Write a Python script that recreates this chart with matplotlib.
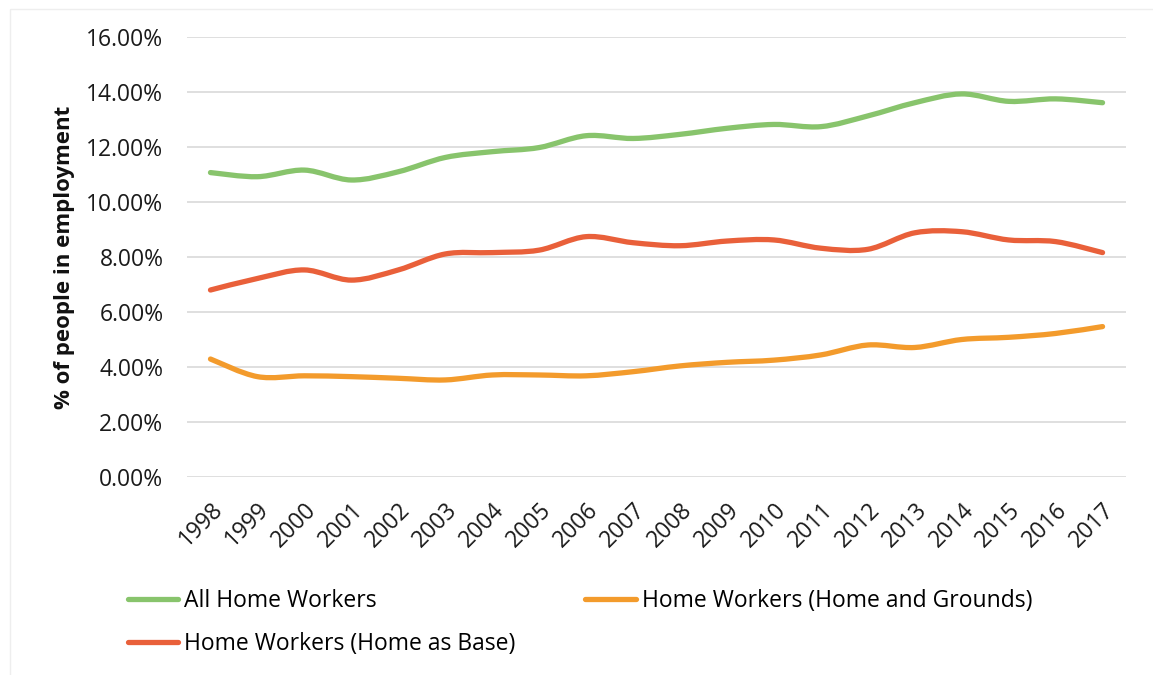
import matplotlib
matplotlib.use("Agg")
import matplotlib.pyplot as plt
import numpy as np
from matplotlib.path import Path
from matplotlib.patches import PathPatch, Rectangle
from matplotlib.lines import Line2D
from matplotlib.ticker import FuncFormatter, MultipleLocator

years = [str(y) for y in range(1998, 2018)]

all_home_workers = [11.07, 10.92, 11.16, 10.80, 11.10, 11.62, 11.83, 11.98, 12.41, 12.31,
                    12.46, 12.68, 12.82, 12.74, 13.13, 13.61, 13.93, 13.66, 13.75, 13.61]
home_as_base = [6.80, 7.22, 7.53, 7.16, 7.53, 8.11, 8.16, 8.25, 8.74, 8.52,
                8.41, 8.58, 8.62, 8.32, 8.28, 8.88, 8.92, 8.62, 8.56, 8.16]
home_and_grounds = [4.29, 3.65, 3.68, 3.65, 3.59, 3.53, 3.71, 3.71, 3.68, 3.83,
                    4.04, 4.17, 4.25, 4.44, 4.80, 4.71, 5.00, 5.08, 5.22, 5.47]

series_names = ["All Home Workers", "Home Workers (Home as Base)",
                "Home Workers (Home and Grounds)"]
series_values = [all_home_workers, home_as_base, home_and_grounds]
series_colors = ["#88c46c", "#e9603a", "#f39b2c"]

plt.rcParams["font.family"] = ["Open Sans", "DejaVu Sans"]

fig = plt.figure(figsize=(11.53, 6.75), dpi=100)
ax = fig.add_axes([0.1622, 0.2933, 0.8144, 0.6519])

# faint chart-area border
fig.add_artist(Rectangle((0.009, -0.05), 1.2, 1.037, transform=fig.transFigure,
                         fill=False, edgecolor="#eeeeee", linewidth=1.0))


def smooth_path(xs, ys):
    # Bezier smoothing with 1/6 tension (spreadsheet-style smoothed line)
    pts = np.column_stack([xs, ys]).astype(float)
    n = len(pts)
    verts = [pts[0]]
    codes = [Path.MOVETO]
    for i in range(n - 1):
        p0 = pts[i - 1] if i > 0 else pts[i]
        p1 = pts[i]
        p2 = pts[i + 1]
        p3 = pts[i + 2] if i + 2 < n else pts[i + 1]
        c1 = p1 + (p2 - p0) / 6.0
        c2 = p2 - (p3 - p1) / 6.0
        verts += [c1, c2, p2]
        codes += [Path.CURVE4] * 3
    return Path(verts, codes)


x = np.arange(len(years))
for vals, col in zip(series_values, series_colors):
    ax.add_patch(PathPatch(smooth_path(x, vals), facecolor="none", edgecolor=col,
                           linewidth=3.8, capstyle="round", joinstyle="round", zorder=3))

ax.set_xlim(-0.5, len(years) - 0.5)
ax.set_ylim(0, 16)
ax.yaxis.set_major_locator(MultipleLocator(2))
ax.yaxis.set_major_formatter(FuncFormatter(lambda v, p: f"{v:.2f}%"))
ax.grid(axis="y", color="#d9d9d9", linewidth=1.2, zorder=0)
for s in ax.spines.values():
    s.set_visible(False)
ax.tick_params(axis="both", length=0, labelsize=16.5, colors="#1a1a1a")
ax.tick_params(axis="y", pad=17)
ax.set_xticks(x)
ax.set_xticklabels(years, rotation=45, ha="right", va="top", rotation_mode="anchor")
ax.tick_params(axis="x", pad=15)
ax.set_ylabel("% of people in employment", fontsize=16, fontweight="bold",
              color="#111111", labelpad=8)

handles = [Line2D([], [], color=c, linewidth=3.8, solid_capstyle="round") for c in series_colors]
fig.legend(handles, series_names, ncol=2, loc="upper left", bbox_to_anchor=(0.111, 0.128),
           frameon=False, fontsize=16.5, handlelength=2.2, handletextpad=0.25,
           columnspacing=3.05, labelspacing=0.85, borderpad=0, borderaxespad=0)

fig.savefig("out.png", dpi=100, facecolor="white")
